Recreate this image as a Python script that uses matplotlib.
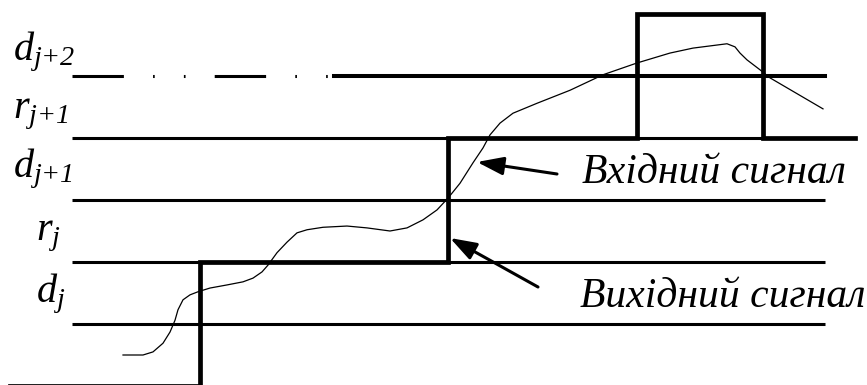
import matplotlib
matplotlib.use("Agg")
import matplotlib.pyplot as plt

plt.rcParams['font.family'] = ['Liberation Serif', 'DejaVu Serif']
plt.rcParams['mathtext.fontset'] = 'custom'
plt.rcParams['mathtext.rm'] = 'Liberation Serif:italic'
plt.rcParams['mathtext.it'] = 'Liberation Serif:italic'
plt.rcParams['lines.scale_dashes'] = False

# threshold levels (d_j, r_j, d_j+1, r_j+1, d_j+2)
level_names = [r'$d_j$', r'$r_j$', r'$d_{j{+}1}$', r'$r_{j{+}1}$', r'$d_{j{+}2}$']
level_values = [1, 2, 3, 4, 5]

# output signal (step): switch times and levels
out_t = [10, 200, 200, 448, 448, 637, 637, 763, 763, 855]
out_v = [0, 0, 2, 2, 4, 4, 6, 6, 4, 4]

# input signal
in_t = [123, 143, 153, 163, 170, 175, 178, 183, 190, 198, 210, 227, 243, 253,
        262, 268, 277, 287, 297, 307, 323, 347, 367, 390, 407, 423, 437, 448,
        460, 473, 483, 490, 500, 513, 537, 570, 603, 637, 670, 693, 727, 735,
        740, 747, 760, 770, 823]
in_v = [0.50, 0.50, 0.55, 0.69, 0.87, 1.06, 1.23, 1.39, 1.47, 1.52, 1.58, 1.63,
        1.68, 1.74, 1.84, 1.95, 2.15, 2.32, 2.47, 2.52, 2.56, 2.58, 2.55, 2.50,
        2.55, 2.68, 2.84, 3.03, 3.27, 3.60, 3.84, 4.05, 4.24, 4.40, 4.56, 4.77,
        5.02, 5.21, 5.37, 5.45, 5.52, 5.47, 5.37, 5.26, 5.10, 4.97, 4.47]

in_label = 'Вхідний сигнал'
out_label = 'Вихідний сигнал'


def px(x, y):
    # picture pixel -> data coords
    return x, 1 + (324 - y) / 62


fig = plt.figure(figsize=(8.67, 3.85), dpi=100)
ax = fig.add_axes([0, 0, 1, 1])
ax.set_xlim(0, 867)
ax.set_ylim(px(0, 385)[1], px(0, 0)[1])
ax.axis('off')

# threshold lines
for v in level_values:
    if v == 5:
        ax.plot([72, 334], [v, v], color='k', lw=2.2, solid_capstyle='butt',
                linestyle=(0, (37, 21, 1.2, 21, 1.2, 21)))
        ax.plot([334, 825], [v, v], color='k', lw=2.9)
    else:
        ax.plot([72, 825], [v, v], color='k', lw=2.2, solid_capstyle='butt')

# level labels
label_pos = [(36, 302), (36, 240), (13, 177), (13, 118), (13, 60)]
for name, (x, y) in zip(level_names, label_pos):
    ax.text(*px(x, y), name, fontsize=29, va='baseline', ha='left')

# signals
ax.plot(out_t, out_v, color='k', lw=3.4, solid_joinstyle='miter')
ax.plot(in_t, in_v, color='k', lw=0.9, solid_joinstyle='round')

arrow = dict(arrowstyle='-|>,head_length=1.6,head_width=0.55', lw=2.2,
             color='k', shrinkA=0, shrinkB=0)
ax.annotate('', xy=px(477, 162), xytext=px(557, 174), arrowprops=arrow)
ax.annotate('', xy=px(450, 238), xytext=px(538, 287), arrowprops=arrow)

ax.text(*px(582, 183), in_label, fontsize=30, style='italic', va='baseline')
ax.text(*px(580, 307), out_label, fontsize=30, style='italic', va='baseline')

fig.savefig('out.png', dpi=100)
